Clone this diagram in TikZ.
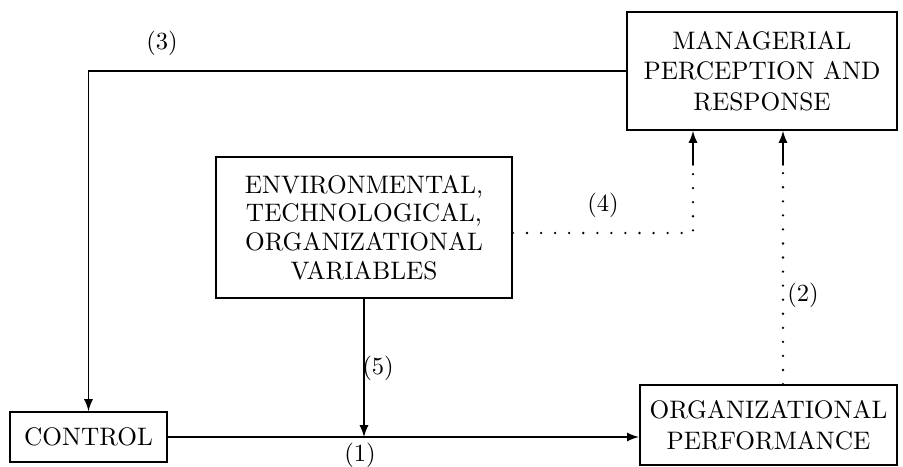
\documentclass[tikz,border=0pt]{standalone}
\tikzset{
  box/.style={draw, line width=0.8pt, align=center, inner sep=2pt,
    font=\fontsize{10.8}{13}\selectfont},
  dots/.style={line width=1.1pt, line cap=round, dash pattern=on 0pt off 6pt},
  lab/.style={font=\fontsize{10.5}{12}\selectfont}
}
\begin{document}
\begin{tikzpicture}[x=0.015cm,y=-0.015cm,line cap=round,>=latex]
  \useasboundingbox (0,0) rectangle (903,467);
  % boxes
  \node[box, minimum width=4.05cm, minimum height=1.77cm] (mgr) at (762,71) {MANAGERIAL\\PERCEPTION AND\\RESPONSE};
  \node[box, minimum width=4.44cm, minimum height=2.12cm, font=\fontsize{10.8}{12.2}\selectfont] (env) at (364,227.5) {ENVIRONMENTAL,\\TECHNOLOGICAL,\\ORGANIZATIONAL\\VARIABLES};
  \node[box, minimum width=2.36cm, minimum height=0.75cm] (ctrl) at (88.5,437) {CONTROL};
  \node[box, minimum width=3.86cm, minimum height=1.2cm] (perf) at (768.5,425) {ORGANIZATIONAL\\PERFORMANCE};
  % solid connectors
  \draw[line width=0.75pt, -latex] (mgr.west) -| (ctrl.north);
  \draw[line width=0.75pt, -latex] (ctrl.east) -- (perf.west |- ctrl.east);
  \coordinate (join) at (env.south |- ctrl.east);
  \draw[line width=0.75pt, -latex] (env.south) -- (join);
  % dotted connectors
  \coordinate (d4) at (693,233);
  \coordinate (t4) at (693,165);
  \draw[dots] (env.east |- d4) -- (d4) -- (t4);
  \draw[line width=0.75pt, -latex] (t4) -- (mgr.south -| t4);
  \coordinate (b2) at (783,385);
  \coordinate (t2) at (783,165);
  \draw[dots] (perf.north -| b2) -- (t2);
  \draw[line width=0.75pt, -latex] (t2) -- (mgr.south -| t2);
  % labels
  \node[lab] (lab3) at (162,43) {(3)};
  \node[lab] (lab4) at (603,205) {(4)};
  \node[lab] (lab2) at (803,295) {(2)};
  \node[lab] (lab5) at (378,368) {(5)};
  \node[lab] (lab1) at (360,455) {(1)};
\end{tikzpicture}
\end{document}
